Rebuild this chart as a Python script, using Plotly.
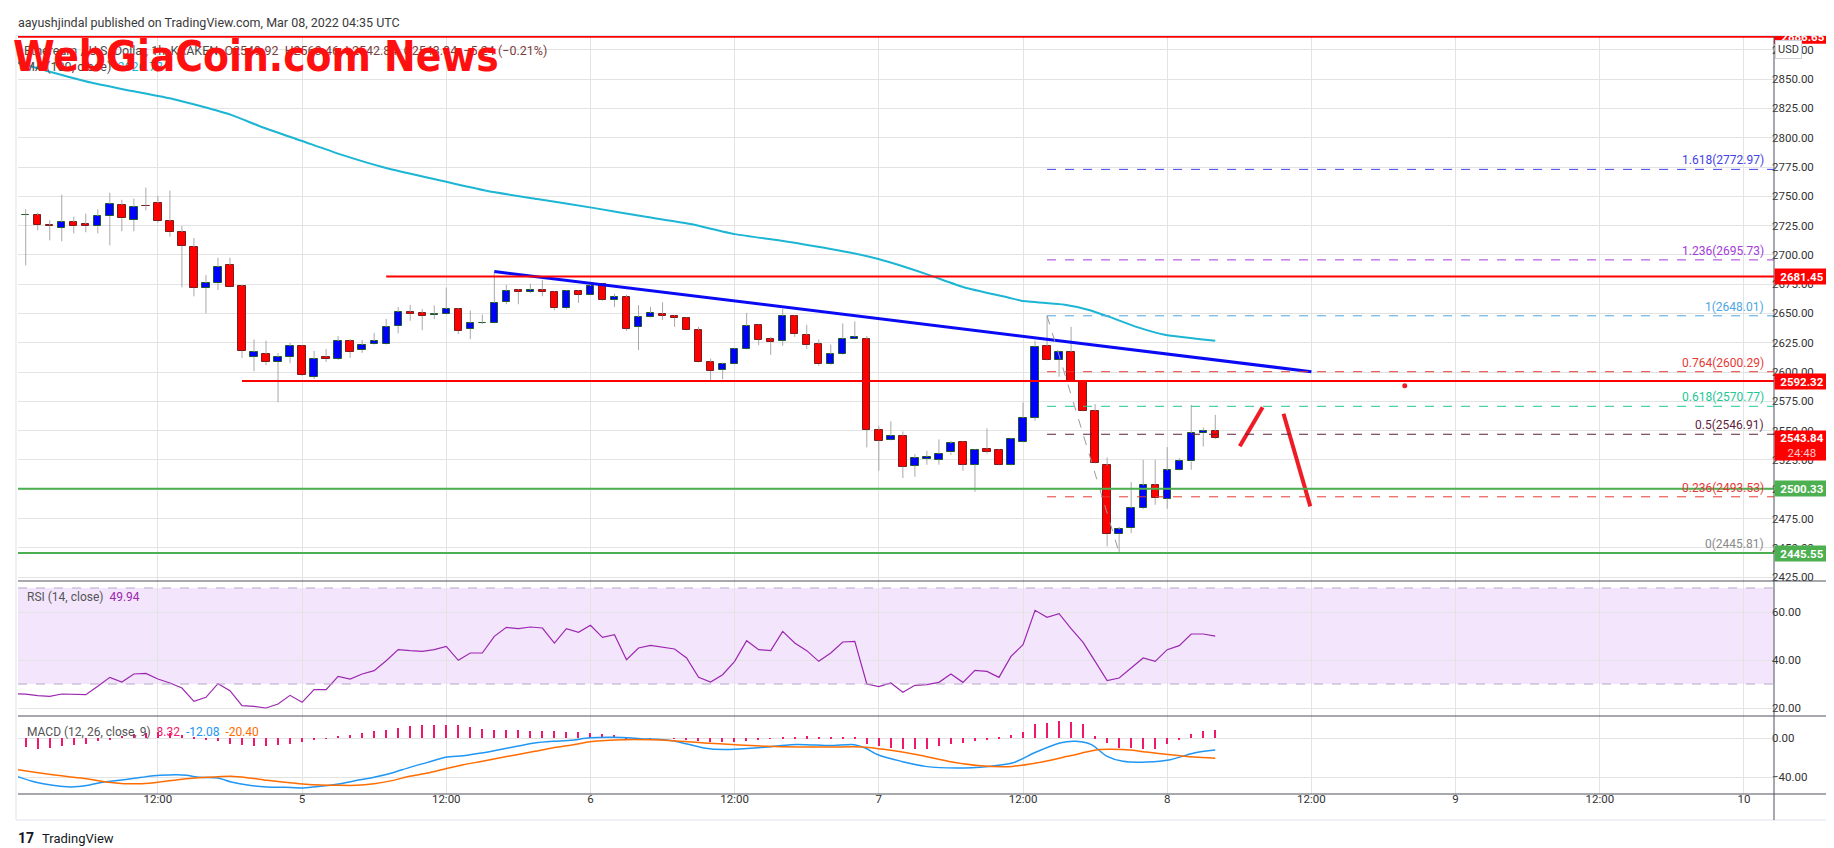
import plotly.graph_objects as go
import pandas as pd

# ---------------- DATA ----------------
START = pd.Timestamp("2022-03-04 00:00")
candle_times = pd.date_range(START, periods=101, freq="h")   # 1h candles, Mar 4 00:00 .. Mar 8 04:00

opens = [2836.0, 2734.0, 2734.0, 2725.5, 2723.0, 2728.1, 2726.4, 2724.4, 2733.2, 2742.6,
         2729.8, 2742.0, 2744.3, 2728.9, 2719.5, 2706.7, 2671.8, 2676.0, 2691.4, 2673.5,
         2612.9, 2615.4, 2608.6, 2612.9, 2622.3, 2595.8, 2612.9, 2611.2, 2626.5, 2618.9,
         2624.0, 2624.0, 2639.3, 2651.4, 2650.5, 2648.8, 2649.7, 2653.9, 2636.9, 2641.8,
         2642.0, 2659.9, 2670.1, 2668.4, 2670.1, 2668.4, 2654.5, 2669.3, 2665.9, 2675.3,
         2661.6, 2664.2, 2638.6, 2647.1, 2649.7, 2648.0, 2646.3, 2636.0, 2608.7, 2601.9,
         2607.0, 2619.8, 2640.3, 2628.3, 2626.6, 2648.0, 2631.7, 2624.1, 2606.8, 2615.3,
         2628.4, 2628.4, 2550.7, 2542.2, 2545.6, 2520.0, 2526.0, 2525.1, 2531.4, 2540.5,
         2520.9, 2534.5, 2533.7, 2520.9, 2540.5, 2561.0, 2622.4, 2610.5, 2617.3, 2592.5,
         2567.0, 2520.3, 2461.7, 2466.8, 2483.9, 2503.8, 2492.0, 2516.0, 2523.7, 2547.9,
         2549.92]
highs = [2838.0, 2738.9, 2736.0, 2729.5, 2751.4, 2732.6, 2735.2, 2738.9, 2753.1, 2747.1,
         2748.0, 2757.4, 2750.3, 2754.8, 2724.7, 2714.4, 2682.9, 2697.6, 2697.6, 2674.3,
         2627.7, 2626.8, 2616.3, 2624.8, 2622.8, 2618.0, 2619.7, 2630.8, 2628.2, 2627.4,
         2633.4, 2645.3, 2655.5, 2657.3, 2653.9, 2656.8, 2672.1, 2654.5, 2652.5, 2649.1,
         2685.8, 2674.4, 2671.0, 2675.3, 2678.7, 2668.9, 2669.8, 2669.8, 2674.4, 2675.8,
         2666.7, 2665.9, 2657.1, 2655.6, 2659.6, 2648.5, 2646.8, 2638.6, 2611.5, 2608.1,
         2620.3, 2650.5, 2640.8, 2630.0, 2653.9, 2648.5, 2640.3, 2627.8, 2623.5, 2641.5,
         2643.2, 2630.9, 2554.2, 2557.9, 2549.3, 2530.0, 2532.8, 2542.5, 2541.4, 2541.0,
         2534.2, 2551.9, 2534.2, 2543.6, 2574.1, 2626.7, 2648.01, 2617.5, 2638.6, 2593.0,
         2572.6, 2527.1, 2467.9, 2506.1, 2525.1, 2525.1, 2535.9, 2526.5, 2572.0, 2552.7,
         2563.46]
lows = [2732.0, 2691.1, 2721.0, 2712.4, 2711.6, 2718.4, 2719.3, 2718.4, 2708.2, 2720.1,
        2720.1, 2738.0, 2727.5, 2715.6, 2672.3, 2664.6, 2650.1, 2670.0, 2672.3, 2612.0,
        2600.7, 2605.8, 2574.2, 2607.5, 2596.7, 2594.1, 2608.6, 2610.5, 2612.0, 2616.3,
        2623.5, 2623.5, 2633.1, 2643.7, 2635.7, 2645.1, 2649.0, 2632.3, 2628.0, 2641.0,
        2641.5, 2657.9, 2657.9, 2667.6, 2664.7, 2652.8, 2653.6, 2659.0, 2665.5, 2661.0,
        2655.3, 2635.2, 2618.7, 2646.6, 2644.5, 2638.6, 2635.5, 2608.2, 2591.6, 2593.9,
        2606.5, 2619.3, 2622.9, 2614.7, 2622.4, 2630.0, 2619.5, 2605.3, 2606.3, 2614.8,
        2627.9, 2535.7, 2515.8, 2541.7, 2509.5, 2510.6, 2520.9, 2520.9, 2529.4, 2515.8,
        2497.8, 2530.5, 2520.4, 2520.4, 2540.0, 2558.4, 2610.0, 2596.0, 2592.0, 2566.5,
        2522.0, 2451.2, 2445.81, 2462.5, 2483.0, 2486.7, 2483.3, 2515.5, 2516.6, 2536.5,
        2542.84]
closes = [2734.0, 2734.4, 2725.5, 2724.9, 2728.1, 2724.4, 2724.4, 2733.2, 2743.4, 2731.2,
          2740.9, 2741.5, 2728.9, 2719.5, 2707.6, 2671.8, 2676.0, 2689.7, 2672.6, 2618.0,
          2617.2, 2608.6, 2612.9, 2622.3, 2597.5, 2611.2, 2611.2, 2626.5, 2617.2, 2623.1,
          2626.5, 2638.5, 2651.3, 2649.7, 2648.0, 2649.4, 2653.9, 2635.2, 2642.0, 2642.2,
          2659.0, 2669.3, 2668.4, 2670.1, 2668.4, 2654.5, 2669.3, 2665.9, 2673.5, 2661.6,
          2664.2, 2636.9, 2647.1, 2650.5, 2648.0, 2646.3, 2636.0, 2608.7, 2601.0, 2607.0,
          2619.8, 2639.4, 2627.5, 2625.8, 2648.0, 2632.6, 2623.2, 2606.8, 2615.3, 2628.4,
          2630.1, 2550.7, 2541.4, 2545.6, 2519.2, 2526.8, 2527.7, 2530.3, 2539.1, 2520.9,
          2533.7, 2532.0, 2520.9, 2543.1, 2561.0, 2621.6, 2610.5, 2617.0, 2592.5, 2567.0,
          2522.6, 2461.7, 2465.7, 2483.9, 2503.2, 2492.4, 2516.0, 2524.5, 2547.9, 2549.92,
          2543.84]

# 100-hour moving average, sampled (hours after Mar 4 00:00, price)
ma_hours = [0.32, 3.24, 6.42, 9.08, 13.32, 15.45, 18.1, 20.76, 23.94, 27.12, 30.84, 35.62,
            39.33, 43.57, 48.35, 52.6, 56.32, 60.03, 64.28, 69.58, 71.97, 75.96, 79.14,
            82.75, 83.86, 87.47, 89.41, 91.07, 93.57, 95.79, 100.0]
ma_values = [2864.2, 2855.7, 2847.1, 2841.4, 2832.9, 2827.2, 2819.5, 2808.7, 2797.4, 2786.0,
             2774.6, 2763.2, 2754.7, 2747.6, 2739.9, 2732.5, 2726.3, 2717.7, 2711.5, 2702.1,
             2696.4, 2683.6, 2672.2, 2663.7, 2660.8, 2657.4, 2653.2, 2647.5, 2638.1, 2631.8,
             2626.73]

rsi_values = [26.0, 25.8, 25.14, 24.86, 25.83, 25.56, 25.56, 29.03, 32.78, 30.83,
              34.17, 34.44, 32.08, 30.42, 28.33, 22.78, 24.44, 30.14, 27.22, 20.97,
              20.69, 20.0, 21.67, 25.28, 22.36, 27.64, 27.64, 33.19, 32.08, 34.17,
              35.56, 39.72, 44.31, 43.89, 43.61, 44.31, 45.69, 39.86, 42.92, 42.92,
              49.86, 53.61, 53.06, 53.75, 53.33, 47.08, 53.06, 51.53, 54.44, 49.44,
              50.56, 40.14, 45.0, 46.11, 45.42, 44.58, 40.83, 32.78, 30.83, 33.89,
              39.44, 48.06, 44.31, 43.89, 51.94, 47.08, 43.89, 39.44, 42.92, 47.5,
              47.78, 30.0, 28.89, 30.42, 26.53, 29.44, 29.72, 30.69, 34.17, 30.69,
              35.69, 35.28, 32.78, 41.53, 46.39, 60.69, 57.78, 59.31, 53.06, 47.36,
              39.44, 31.39, 32.5, 36.67, 40.83, 39.44, 44.31, 45.97, 50.83, 50.83, 49.94]

macd_hist = [-9.0, -9.0, -10.6, -9.9, -8.2, -7.2, -5.8, -3.1, -1.0, 2.5,
             4.5, 5.5, 6.0, 5.5, 3.5, 1.0, -1.5, -3.0, -5.8, -6.5,
             -7.5, -7.5, -6.5, -5.8, -4.1, -2.1, -0.7, 2.1, 3.8, 5.5,
             7.2, 8.9, 10.6, 12.3, 13.3, 13.7, 14.0, 14.0, 11.3, 9.6,
             8.9, 8.9, 8.5, 7.9, 7.2, 7.2, 6.5, 6.2, 5.1, 4.1,
             3.4, 1.0, 0.3, 0.3, 0.0, -0.3, -1.4, -3.1, -3.5, -3.8,
             -3.5, -2.5, -1.2, 0.3, 1.2, 1.7, 2.0, 1.7, 1.4, 1.4,
             1.4, -6.2, -7.9, -9.6, -11.3, -11.3, -10.6, -7.9, -6.2, -5.1,
             -2.7, -1.0, 1.0, 3.4, 6.8, 14.4, 15.7, 17.8, 17.1, 15.0,
             2.0, -5.0, -9.6, -10.3, -11.3, -10.6, -6.2, -2.1, 4.1, 7.5, 8.32]

macd_hours = [0.27, 1.76, 3.24, 4.73, 6.21, 7.51, 9.19, 10.67, 12.16, 13.64, 14.39, 15.5,
              16.99, 18.1, 19.59, 21.07, 22.56, 24.05, 25.53, 27.02, 28.5, 29.99, 31.48,
              32.96, 34.45, 35.93, 37.42, 38.91, 40.39, 41.88, 43.37, 44.85, 46.34, 47.97,
              49.94, 52.18, 54.81, 57.44, 59.09, 60.73, 62.71, 64.68, 66.0, 67.97, 69.95,
              70.87, 71.92, 73.9, 75.87, 78.5, 81.13, 83.11, 85.09, 87.06, 88.38, 89.69,
              91.0, 92.32, 94.3, 96.27, 98.24, 100.0]
macd_line = [-39.0, -44.8, -48.2, -49.9, -48.2, -44.8, -42.4, -40.0, -38.0, -37.3, -38.0, -40.0,
             -40.7, -44.8, -48.2, -49.9, -50.2, -50.9, -49.2, -46.8, -43.4, -40.0, -35.6,
             -29.8, -24.7, -19.5, -17.8, -15.1, -11.7, -8.2, -4.8, -3.1, -2.1, 0.5,
             1.0, -0.4, -2.4, -9.9, -11.6, -10.6, -8.9, -6.5, -6.5, -7.5, -6.5,
             -9.9, -16.9, -23.7, -28.8, -30.5, -28.8, -25.4, -14.1, -4.8, -3.1, -6.5,
             -18.5, -23.6, -24.3, -21.9, -15.1, -12.08]
signal_hours = [0.27, 1.76, 3.24, 4.73, 6.21, 7.7, 9.19, 10.67, 12.16, 13.64, 15.13, 16.62,
                18.1, 19.59, 21.07, 22.56, 24.05, 25.53, 27.02, 28.5, 29.99, 31.48, 32.96,
                34.45, 35.93, 37.42, 38.91, 40.39, 41.88, 43.37, 44.85, 46.34, 47.97, 50.9,
                54.81, 57.44, 60.08, 62.71, 65.34, 67.97, 70.6, 72.58, 75.21, 77.84, 80.48,
                83.11, 85.09, 87.72, 90.35, 92.32, 94.3, 96.27, 98.24, 100.0]
signal_line = [-32.2, -34.9, -37.3, -39.7, -41.7, -44.8, -46.5, -46.5, -44.8, -42.4, -40.7, -39.7,
               -39.0, -40.7, -43.1, -45.1, -46.8, -47.9, -48.2, -48.2, -46.5, -43.4, -39.0,
               -35.6, -31.2, -27.1, -23.7, -20.2, -16.8, -13.4, -9.9, -7.2, -3.5, -1.4,
               -2.4, -4.8, -6.5, -8.2, -8.9, -8.9, -8.9, -11.6, -16.9, -23.7, -28.1,
               -28.8, -25.4, -18.5, -11.6, -11.6, -14.1, -16.9, -19.2, -20.40]

# drawn levels
top_level = 2886.65
resist_levels = [2681.45, 2592.32]
resist_start_hours = [31, 19]
support_levels = [2500.33, 2445.55]
trend_hours = [40, 108]
trend_prices = [2685.8, 2600.3]
fib_start_hour = 86
fib_ratios = [1.618, 1.236, 1, 0.764, 0.618, 0.5, 0.236, 0]
fib_prices = [2772.97, 2695.73, 2648.01, 2600.29, 2570.77, 2546.91, 2493.53, 2445.81]
fib_colors = ['#4343e6', '#a23bd9', '#4ea6e3', '#e53935', '#22c795', '#5e1f3d', '#e53935', '#8a8a8a']
fib_swing_hours = [86, 92]
fib_swing_prices = [2648.01, 2445.81]
stroke1_hours, stroke1_prices = [102.04, 103.94], [2536.6, 2569.9]
stroke2_hours, stroke2_prices = [105.68, 107.91], [2564.4, 2485.4]
dot_hour, dot_price = 115.77, 2588.3
last_price = 2543.84

tick_hours = [12, 24, 36, 48, 60, 72, 84, 96, 108, 120, 132, 144]
tick_text = ["12:00", "5", "12:00", "6", "12:00", "7", "12:00", "8", "12:00", "9", "12:00", "10"]

# ---------------- LAYOUT GEOMETRY ----------------
L, R, T, B = 10, 68, 28, 62
FW, FH = 1834, 848
W, H = FW - L - R, FH - T - B


def at(h):
    return START + pd.Timedelta(hours=h)


def px(xp):
    return (xp - L) / W


def py(yp):
    return (T + H - yp) / H


x_start, x_end = at(0.358), at(146.5)
FONT = "Roboto, Liberation Sans, sans-serif"

fig = go.Figure()

# wicks (upper and lower, not over the body)
wx, wy = [], []
for t, o, h, l, c in zip(candle_times, opens, highs, lows, closes):
    top, bot = max(o, c), min(o, c)
    wx += [t, t, None, t, t, None]
    wy += [top, h, None, l, bot, None]
fig.add_trace(go.Scatter(x=wx, y=wy, mode="lines", line=dict(color="#a8a8a8", width=1),
                         hoverinfo="skip", yaxis="y"))

# bodies
bull = [c >= o for o, c in zip(opens, closes)]
fig.add_trace(go.Bar(
    x=candle_times, base=[min(o, c) for o, c in zip(opens, closes)],
    y=[max(abs(c - o), 0.4) for o, c in zip(opens, closes)],
    width=2.2e6,
    marker=dict(color=["#0000ff" if b else "#ff0000" for b in bull],
                line=dict(color=["#1f5a2c" if b else "#7a1d1d" for b in bull], width=1)),
    hoverinfo="skip", yaxis="y"))

# moving average
fig.add_trace(go.Scatter(x=[at(h) for h in ma_hours], y=ma_values, mode="lines",
                         line=dict(color="#1cb5d4", width=2, shape="spline", smoothing=0.6),
                         hoverinfo="skip", yaxis="y"))

# trendline
fig.add_trace(go.Scatter(x=[at(h) for h in trend_hours], y=trend_prices, mode="lines",
                         line=dict(color="#0a0af5", width=3), hoverinfo="skip", yaxis="y"))

# red brush strokes
for hs, ps in [(stroke1_hours, stroke1_prices), (stroke2_hours, stroke2_prices)]:
    fig.add_trace(go.Scatter(x=[at(h) for h in hs], y=ps, mode="lines",
                             line=dict(color="#ef1c26", width=4), hoverinfo="skip", yaxis="y"))
fig.add_trace(go.Scatter(x=[at(dot_hour)], y=[dot_price], mode="markers",
                         marker=dict(color="#ef1c26", size=5), hoverinfo="skip", yaxis="y"))

# RSI
fig.add_trace(go.Scatter(x=candle_times, y=rsi_values, mode="lines",
                         line=dict(color="#9c27b0", width=1.2), hoverinfo="skip", yaxis="y2"))

# MACD
fig.add_trace(go.Bar(x=candle_times, y=macd_hist, width=4.2e5,
                     marker=dict(color="#f0186c", line=dict(width=0)), hoverinfo="skip", yaxis="y3"))
fig.add_trace(go.Scatter(x=[at(h) for h in macd_hours], y=macd_line, mode="lines",
                         line=dict(color="#2196f3", width=1.5, shape="spline", smoothing=0.8),
                         hoverinfo="skip", yaxis="y3"))
fig.add_trace(go.Scatter(x=[at(h) for h in signal_hours], y=signal_line, mode="lines",
                         line=dict(color="#ff6d00", width=1.5, shape="spline", smoothing=0.8),
                         hoverinfo="skip", yaxis="y3"))

shapes = []
# RSI band
shapes.append(dict(type="rect", xref="paper", x0=0, x1=1, yref="y2", y0=30, y1=70,
                   fillcolor="#f3e6fc", line=dict(width=0), layer="below"))
for lv in (70, 30):
    shapes.append(dict(type="line", xref="paper", x0=0, x1=1, yref="y2", y0=lv, y1=lv,
                       line=dict(color="#b7a7c8", width=1, dash="dash")))
# fib lines
for p, col in zip(fib_prices, fib_colors):
    shapes.append(dict(type="line", xref="x", x0=at(fib_start_hour), x1=x_end, yref="y", y0=p, y1=p,
                       line=dict(color=col, width=1, dash="dash")))
shapes.append(dict(type="line", xref="x", x0=at(fib_swing_hours[0]), x1=at(fib_swing_hours[1]),
                   yref="y", y0=fib_swing_prices[0], y1=fib_swing_prices[1],
                   line=dict(color="#9a9a9a", width=1, dash="dash")))
# horizontal levels
shapes.append(dict(type="line", xref="x", x0=x_start, x1=x_end, yref="y", y0=top_level, y1=top_level,
                   line=dict(color="#ff0000", width=3)))
for p, h in zip(resist_levels, resist_start_hours):
    shapes.append(dict(type="line", xref="x", x0=at(h), x1=x_end, yref="y", y0=p, y1=p,
                       line=dict(color="#ff0000", width=2)))
for p in support_levels:
    shapes.append(dict(type="line", xref="x", x0=x_start, x1=x_end, yref="y", y0=p, y1=p,
                       line=dict(color="#4caf50", width=2)))
# top price tag (clipped by the pane)
shapes.append(dict(type="rect", xref="paper", x0=1, x1=px(1820), yref="y",
                   y0=top_level - 6.5, y1=top_level + 6.5, fillcolor="#ff0000", line=dict(width=0)))
# frame / separators
border = "#e0e3eb"
shapes.append(dict(type="rect", xref="paper", yref="paper", x0=px(8), x1=px(1823), y0=py(812), y1=py(27.5),
                   line=dict(color=border, width=1), fillcolor="rgba(0,0,0,0)", layer="below"))
for yy in (573, 708, 786):
    shapes.append(dict(type="line", xref="paper", yref="paper", x0=px(10), x1=px(1823), y0=py(yy), y1=py(yy),
                       line=dict(color="#50535e", width=1)))
shapes.append(dict(type="line", xref="paper", yref="paper", x0=1, x1=1, y0=py(812), y1=py(28),
                   line=dict(color="#50535e", width=1)))

ann = []


def text_ann(x, y, text, size=12, color="#333", **kw):
    d = dict(xref="paper", yref="paper", x=x, y=y, text=text, showarrow=False,
             xanchor="left", yanchor="middle", font=dict(family=FONT, size=size, color=color))
    d.update(kw)
    ann.append(d)


text_ann(px(8), py(14), "aayushjindal published on TradingView.com, Mar 08, 2022 04:35 UTC", 12.5, "#3a3a3a")
ohlc_col = "#7a4040"
text_ann(px(14), py(42),
         "Ethereum / U.S. Dollar, 1h, KRAKEN&nbsp;&nbsp;"
         f"<span style='color:{ohlc_col}'>O{opens[-1]:.2f}&nbsp;&nbsp;H{highs[-1]:.2f}&nbsp;&nbsp;"
         f"L{lows[-1]:.2f}&nbsp;&nbsp;C{closes[-1]:.2f}&nbsp;&nbsp;−5.24 (−0.21%)</span>", 12.5, "#4a4a4a")
text_ann(px(14), py(59),
         f"MA (100, close)&nbsp;&nbsp;<span style='color:#1cb5d4'>{ma_values[-1]:.2f}</span>", 12.5, "#4a4a4a")
ann.append(dict(xref="paper", yref="paper", x=px(3), y=py(48), text="WebGiaCoin.com News",
                showarrow=False, xanchor="left", yanchor="middle",
                font=dict(family="Liberation Sans Narrow, DejaVu Sans Condensed, Roboto Condensed, Roboto",
                          size=42, color="#ff1010", weight=900)))
text_ann(px(17), py(589), f"RSI (14, close)&nbsp;&nbsp;<span style='color:#9c27b0'>{rsi_values[-1]:.2f}</span>",
         12, "#555")
text_ann(px(17), py(724),
         f"MACD (12, 26, close, 9)&nbsp;&nbsp;<span style='color:#f0186c'>{macd_hist[-1]:.2f}</span>"
         f"&nbsp;&nbsp;<span style='color:#2196f3'>{macd_line[-1]:.2f}</span>"
         f"&nbsp;&nbsp;<span style='color:#ff6d00'>{signal_line[-1]:.2f}</span>", 12, "#555")
text_ann(px(8), py(830), "<b>17</b>", 14, "#131722")
text_ann(px(32), py(830), "TradingView", 13, "#131722")

# fib labels
for r, p, col in zip(fib_ratios, fib_prices, fib_colors):
    ann.append(dict(xref="paper", yref="y", x=1, y=p, xshift=-8, xanchor="right", yanchor="bottom",
                    text=f"{r:g}({p:.2f})", showarrow=False,
                    font=dict(family=FONT, size=12, color=col)))


def tag(price, text, color, height=15, yanchor="middle", yshift=0):
    ann.append(dict(xref="paper", yref="y", x=1, y=price, xanchor="left", yanchor=yanchor, yshift=yshift,
                    text=text, showarrow=False, bgcolor=color, width=54, height=height, borderpad=0,
                    align="center", font=dict(family=FONT, size=11.5, color="white")))


ann.append(dict(xref="paper", yref="y", x=1, y=top_level, xanchor="left", yanchor="middle",
                text=f"<b>{top_level:.2f}</b>", showarrow=False, width=54, height=15,
                font=dict(family=FONT, size=11.5, color="white")))
for p in resist_levels:
    tag(p, f"<b>{p:.2f}</b>", "#ff0000")
for p in support_levels:
    tag(p, f"<b>{p:.2f}</b>", "#4caf50")
tag(last_price, f"<b>{last_price:.2f}</b><br><span style='color:#ffc8c8'>24:48</span>", "#ff0000",
    height=29, yanchor="top", yshift=8)
ann.append(dict(xref="paper", yref="y", x=1, xshift=14, y=2875, xanchor="center", yanchor="middle",
                text="USD", showarrow=False, bgcolor="white", bordercolor="#d1d4dc", borderwidth=1,
                borderpad=2, font=dict(family=FONT, size=11, color="#333")))

grid = "#e3e3e3"
axis_font = dict(family=FONT, size=11.5, color="#333")
fig.update_layout(
    width=FW, height=FH, margin=dict(l=L, r=R, t=T, b=B),
    paper_bgcolor="white", plot_bgcolor="white", showlegend=False, hovermode=False,
    barmode="overlay", bargap=0,
    xaxis=dict(type="date", range=[x_start, x_end], tickvals=[at(h) for h in tick_hours], ticktext=tick_text,
               showgrid=True, gridcolor=grid, gridwidth=1, zeroline=False, showline=False, ticks="",
               tickfont=axis_font, anchor="y3", ticklabelstandoff=-4, fixedrange=True),
    yaxis=dict(domain=[py(573), 1], range=[2421.67, 2886.8], side="right", anchor="x", tick0=2425, dtick=25,
               tickformat=".2f", showgrid=True, gridcolor=grid, zeroline=False, showline=False, ticks="",
               tickfont=axis_font, ticklabelstandoff=-3),
    yaxis2=dict(domain=[py(708), py(573)], range=[16.67, 72.92], side="right", anchor="x",
                tickvals=[20, 40, 60], tickformat=".2f", showgrid=True, gridcolor=grid, zeroline=False,
                showline=False, ticks="", tickfont=axis_font, ticklabelstandoff=-3),
    yaxis3=dict(domain=[0, py(708)], range=[-57.13, 22.87], side="right", anchor="x",
                tickvals=[-40, 0], tickformat=".2f", showgrid=True, gridcolor=grid, zeroline=False,
                showline=False, ticks="", tickfont=axis_font, ticklabelstandoff=-3),
    shapes=shapes, annotations=ann,
)

fig.write_html("out.html", config={"displayModeBar": False})
